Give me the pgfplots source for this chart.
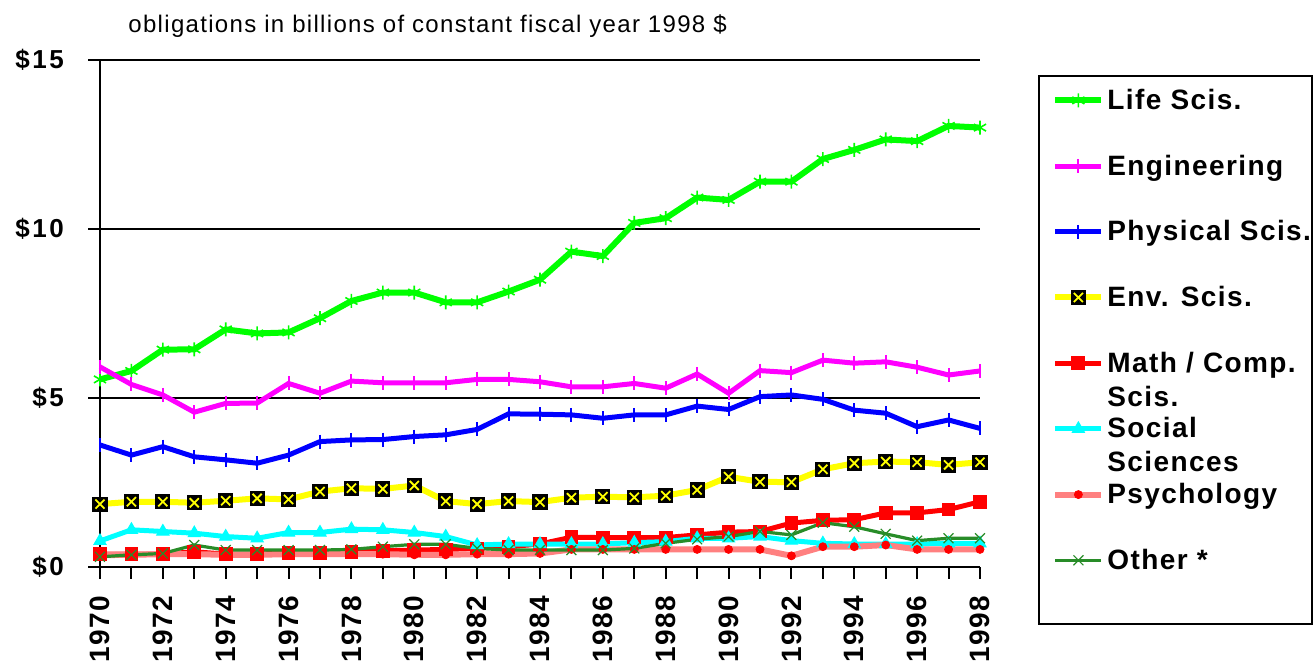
\documentclass[border=0pt]{standalone}
\usepackage{fontspec}
\setmainfont{Liberation Sans}
\newfontfamily\legfont[LetterSpace=5]{Liberation Sans}
\newfontfamily\titlefont[LetterSpace=5.5]{Liberation Sans}
\newfontfamily\ytfont[LetterSpace=10]{Liberation Sans}
\newfontfamily\xtfont[LetterSpace=5]{Liberation Sans}
\usepackage{pgfplots}
\usepackage{pgfplotstable}
\pgfplotsset{compat=1.18}
\definecolor{lifegreen}{RGB}{0,255,0}
\definecolor{engmag}{RGB}{255,0,255}
\definecolor{physblue}{RGB}{0,0,255}
\definecolor{envyellow}{RGB}{255,255,0}
\definecolor{mathred}{RGB}{255,0,0}
\definecolor{soccyan}{RGB}{0,255,255}
\definecolor{psysalmon}{RGB}{255,128,128}
\definecolor{othgreen}{RGB}{40,140,40}

\pgfdeclareplotmark{envmark}{%
  \pgfsetfillcolor{black}%
  \pgfpathrectangle{\pgfqpoint{-\pgfplotmarksize}{-\pgfplotmarksize}}{\pgfqpoint{2\pgfplotmarksize}{2\pgfplotmarksize}}%
  \pgfusepathqfill
  \pgfsetstrokecolor{envyellow}%
  \pgfsetlinewidth{0.9pt}%
  \pgfpathmoveto{\pgfqpoint{-0.6\pgfplotmarksize}{-0.6\pgfplotmarksize}}%
  \pgfpathlineto{\pgfqpoint{0.6\pgfplotmarksize}{0.6\pgfplotmarksize}}%
  \pgfpathmoveto{\pgfqpoint{-0.6\pgfplotmarksize}{0.6\pgfplotmarksize}}%
  \pgfpathlineto{\pgfqpoint{0.6\pgfplotmarksize}{-0.6\pgfplotmarksize}}%
  \pgfusepathqstroke
}

\pgfplotstableread{
year life eng phys env math soc psy oth
1970 5.55 5.92 3.61 1.86 0.38 0.77 0.35 0.30
1971 5.80 5.40 3.31 1.93 0.38 1.10 0.36 0.36
1972 6.43 5.09 3.56 1.93 0.38 1.05 0.38 0.40
1973 6.44 4.58 3.26 1.90 0.45 1.00 0.38 0.65
1974 7.03 4.84 3.17 1.96 0.38 0.90 0.36 0.50
1975 6.91 4.85 3.07 2.03 0.38 0.85 0.36 0.50
1976 6.94 5.43 3.31 2.00 0.42 1.02 0.38 0.50
1977 7.36 5.14 3.71 2.23 0.42 1.02 0.38 0.50
1978 7.87 5.50 3.76 2.33 0.45 1.12 0.38 0.52
1979 8.12 5.45 3.77 2.31 0.48 1.10 0.38 0.60
1980 8.12 5.45 3.86 2.41 0.50 1.02 0.36 0.67
1981 7.83 5.45 3.91 1.95 0.52 0.90 0.36 0.67
1982 7.83 5.55 4.07 1.86 0.55 0.65 0.38 0.55
1983 8.15 5.55 4.53 1.95 0.60 0.68 0.38 0.50
1984 8.50 5.48 4.52 1.92 0.68 0.68 0.40 0.50
1985 9.33 5.33 4.50 2.05 0.88 0.68 0.52 0.50
1986 9.20 5.33 4.40 2.08 0.87 0.68 0.52 0.50
1987 10.18 5.43 4.50 2.06 0.87 0.72 0.52 0.55
1988 10.32 5.29 4.50 2.11 0.87 0.75 0.52 0.70
1989 10.93 5.71 4.76 2.28 0.95 0.85 0.52 0.82
1990 10.86 5.14 4.66 2.67 1.03 0.85 0.52 0.90
1991 11.40 5.81 5.04 2.52 1.05 0.90 0.52 1.05
1992 11.40 5.75 5.09 2.51 1.30 0.78 0.33 0.95
1993 12.07 6.12 4.96 2.89 1.38 0.70 0.60 1.31
1994 12.34 6.03 4.64 3.07 1.40 0.68 0.60 1.19
1995 12.65 6.07 4.55 3.12 1.60 0.68 0.65 0.98
1996 12.60 5.91 4.15 3.10 1.60 0.68 0.52 0.78
1997 13.05 5.68 4.35 3.02 1.70 0.70 0.52 0.85
1998 13.00 5.80 4.10 3.10 1.93 0.70 0.52 0.85
}\data

\begin{document}
\begin{tikzpicture}
\useasboundingbox (-50pt,-47.5pt) rectangle (607pt,283.5pt);
\begin{axis}[
  at={(0pt,0pt)}, anchor=south west,
  scale only axis, width=440pt, height=253.5pt,
  xmin=1970, xmax=1998, ymin=0, ymax=15,
  axis x line*=bottom, axis y line*=left,
  axis line style={-, line width=1pt, black},
  xtick={1970,1972,1974,1976,1978,1980,1982,1984,1986,1988,1990,1992,1994,1996,1998},
  xticklabels={1970,1972,1974,1976,1978,1980,1982,1984,1986,1988,1990,1992,1994,1996,1998},
  minor xtick={1971,1973,1975,1977,1979,1981,1983,1985,1987,1989,1991,1993,1995,1997},
  ytick={0,5,10,15}, yticklabels={\$0,\$5,\$10,\$15},
  ymajorgrids, major grid style={black, line width=1pt},
  tick align=outside, major tick length=6pt, minor tick length=6pt,
  tick style={black, line width=1pt},
  xticklabel shift=5pt, yticklabel shift=8.5pt,
  xticklabel style={rotate=90, anchor=east, font=\xtfont\bfseries\fontsize{14}{16}\selectfont},
  yticklabel style={font=\ytfont\bfseries\fontsize{13}{15}\selectfont},
  clip=false,
  legend image code/.code={\draw[mark repeat=2,mark phase=2,#1] plot coordinates {(0pt,0pt) (11.5pt,0pt) (23pt,0pt)};},
  legend style={draw=none, fill=none, at={(1.0818,0.9448)}, anchor=north west, inner sep=0pt, row sep=20.85pt, column sep=1.5pt, font=\legfont\bfseries\fontsize{14}{17}\selectfont, nodes={text height=10.5pt, text depth=1.5pt, inner sep=0pt}},
  legend cell align=left,
]
\addplot[color=lifegreen, line width=3pt, mark=asterisk, mark size=3.5pt, mark options={line width=0.8pt, solid}] table[x=year,y=life]{\data};
\addlegendentry{Life Scis.}
\addplot[color=engmag, line width=2.5pt, mark=|, mark size=3.5pt, mark options={line width=1pt, solid}] table[x=year,y=eng]{\data};
\addlegendentry{Engineering}
\addplot[color=physblue, line width=2.5pt, mark=|, mark size=3.5pt, mark options={line width=1pt, solid}] table[x=year,y=phys]{\data};
\addlegendentry{Physical Scis.}
\addplot[color=envyellow, line width=3pt, mark=envmark, mark size=3.8pt] table[x=year,y=env]{\data};
\addlegendentry{Env. Scis.}
\addplot[color=mathred, line width=2.5pt, mark=square*, mark size=3.2pt, mark options={line width=0.5pt, solid}] table[x=year,y=math]{\data};
\addlegendentry{\begin{tabular}[t]{@{}l@{}}Math / Comp.\\Scis.\end{tabular}}
\addplot[color=soccyan, line width=2.5pt, mark=triangle*, mark size=3.5pt, mark options={line width=0.5pt, solid}] table[x=year,y=soc]{\data};
\addlegendentry{\begin{tabular}[t]{@{}l@{}}Social\\Sciences\end{tabular}}
\addplot[color=psysalmon, line width=3pt, mark=*, mark size=2pt, mark options={fill=mathred, draw=mathred, line width=0.4pt, solid}] table[x=year,y=psy]{\data};
\addlegendentry{Psychology}
\addplot[color=othgreen, line width=1.6pt, mark=x, mark size=3.5pt, mark options={line width=0.6pt, solid}] table[x=year,y=oth]{\data};
\addlegendentry{Other *}
\end{axis}
\draw[line width=0.8pt] (469.5pt,-28.5pt) rectangle (606pt,245.5pt);
\node[anchor=base west, font=\titlefont\fontsize{12}{14}\selectfont, inner sep=0pt] at (14pt,267pt) {obligations in billions of constant fiscal year 1998 \$};
\end{tikzpicture}
\end{document}
